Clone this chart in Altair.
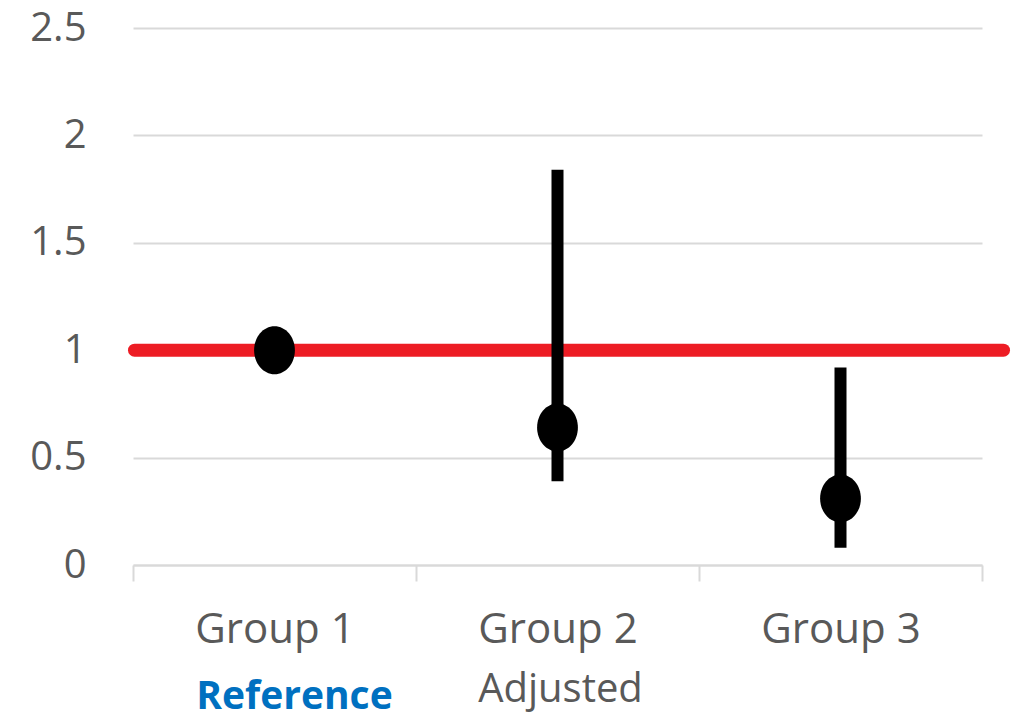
import altair as alt
import pandas as pd

# Estimates with confidence limits per group
groups = ["Group 1", "Group 2", "Group 3"]
estimates = [1.0, 0.64, 0.31]
lows = [None, 0.39, 0.08]
highs = [None, 1.84, 0.92]
reference_value = 1.0
y_ticks = [0, 0.5, 1, 1.5, 2, 2.5]

# Second row of category captions
ref_caption = {"group": ["Group 1"], "caption": ["Reference"]}
adj_caption = {"group": ["Group 2"], "caption": ["Adjusted"]}

W, H = 849, 537
FONT = "Open Sans"
GRAY_TEXT = "#595959"
GRID = "#d9d9d9"

df = pd.DataFrame({"group": groups, "est": estimates, "lo": lows, "hi": highs})
ci = df.dropna()

x_enc = alt.X(
    "group:N",
    sort=groups,
    title=None,
    scale=alt.Scale(paddingInner=0, paddingOuter=0),
    axis=alt.Axis(
        tickBand="extent",
        labelAngle=0,
        labelFont=FONT,
        labelFontSize=42,
        labelColor=GRAY_TEXT,
        labelPadding=28,
        tickSize=16,
        tickWidth=2,
        tickColor=GRID,
        domainColor=GRID,
        domainWidth=2,
        grid=False,
    ),
)
y_scale = alt.Scale(domain=[0, 2.5], nice=False)
y_axis = alt.Axis(
    values=y_ticks,
    format="~g",
    labelFont=FONT,
    labelFontSize=40,
    labelColor=GRAY_TEXT,
    labelPadding=47,
    ticks=False,
    domain=False,
    grid=True,
    gridColor=GRID,
    gridWidth=2,
)

base = alt.Chart(df)

# Axes and gridlines carried by an invisible layer
frame = base.mark_point(opacity=0).encode(
    x=x_enc, y=alt.Y("est:Q", scale=y_scale, axis=y_axis, title=None)
)

ref_line = alt.Chart(pd.DataFrame({"v": [reference_value]})).mark_rule(
    color="#ED1C24", strokeWidth=13, strokeCap="round", clip=False
).encode(
    y=alt.Y("v:Q", scale=y_scale),
    x=alt.value(1.5),
    x2=alt.value(870.5),
)

bars = alt.Chart(ci).mark_rule(color="black", strokeWidth=12).encode(
    x=alt.X("group:N", sort=groups),
    y=alt.Y("lo:Q", scale=y_scale),
    y2="hi:Q",
)

ellipse = "M-0.85,0 A0.85,1 0 1,0 0.85,0 A0.85,1 0 1,0 -0.85,0 Z"
dots = base.mark_point(
    shape=ellipse, filled=True, color="black", opacity=1, size=2304
).encode(
    x=alt.X("group:N", sort=groups),
    y=alt.Y("est:Q", scale=y_scale),
)

ref_text = alt.Chart(pd.DataFrame(ref_caption)).mark_text(
    font=FONT, fontSize=39, fontWeight="bold", color="#0070C0",
    baseline="alphabetic", dx=20
).encode(
    x=alt.X("group:N", sort=groups),
    y=alt.value(H + 144),
    text="caption:N",
)

adj_text = alt.Chart(pd.DataFrame(adj_caption)).mark_text(
    font=FONT, fontSize=40, color=GRAY_TEXT, baseline="alphabetic", dx=3
).encode(
    x=alt.X("group:N", sort=groups),
    y=alt.value(H + 137),
    text="caption:N",
)

chart = (
    alt.layer(frame, ref_line, bars, dots, ref_text, adj_text)
    .properties(
        width=W,
        height=H,
        background="white",
        autosize=alt.AutoSizeParams(type="none"),
        padding={"left": 133, "top": 28, "right": 44, "bottom": 154},
    )
    .configure_view(strokeWidth=0, stroke="transparent")
)

chart.save("out.html", embed_options={"renderer": "svg", "actions": False})
